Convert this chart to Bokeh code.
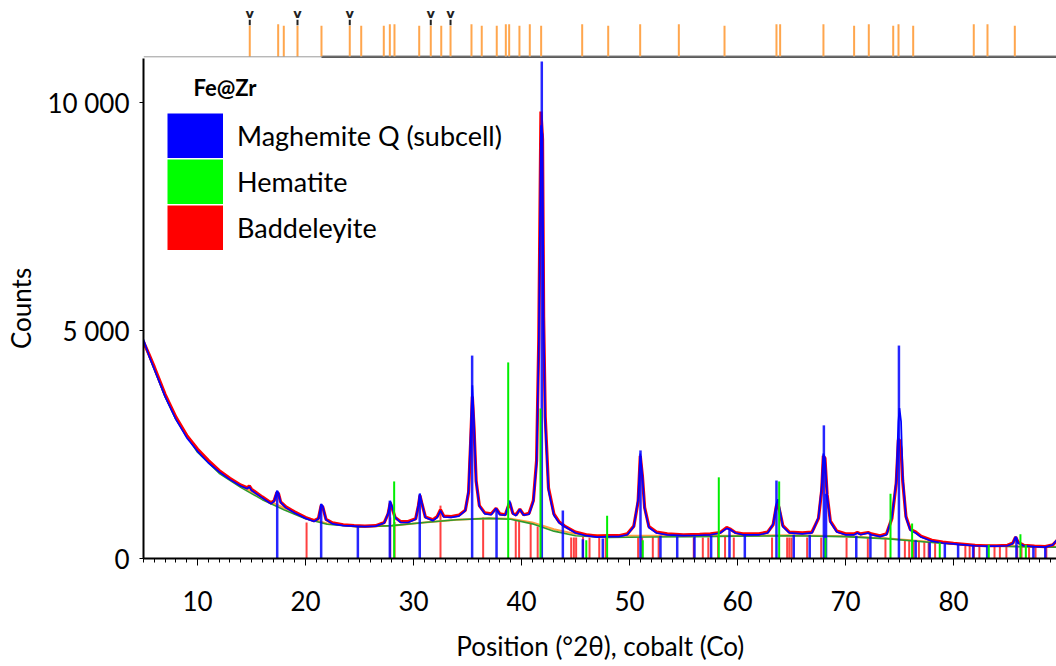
from bokeh.plotting import figure
from bokeh.layouts import column
from bokeh.models import (Range1d, FixedTicker, Legend, LegendItem, Label, Span)
from bokeh.core.properties import value
from bokeh.embed import file_html
from bokeh.resources import INLINE

# ---------------- data ----------------
x_min, x_max = 5.0, 89.54
y_max = 10965

two_theta = [5.0, 5.5, 6.0, 7.0, 8.0, 9.0, 10.0, 11.0, 12.0, 13.0, 14.0, 14.6, 14.8, 15.0, 16.0, 16.8,
             17.1, 17.35, 17.5, 17.7, 18.2, 19.0, 20.0, 20.8, 21.2, 21.45, 21.6, 21.9, 22.5, 23.5, 24.5,
             25.5, 26.5, 27.3, 27.65, 27.85, 28.0, 28.3, 28.8, 29.5, 30.2, 30.45, 30.6, 30.75, 31.1, 31.8,
             32.2, 32.5, 32.8, 33.5, 34.2, 34.8, 35.1, 35.3, 35.45, 35.6, 35.8, 36.1, 36.6, 37.2, 37.65,
             38.0, 38.5, 38.9, 39.2, 39.5, 39.85, 40.2, 40.7, 41.1, 41.4, 41.6, 41.8, 41.95, 42.05, 42.2,
             42.5, 43.0, 43.5, 44.0, 45.0, 46.0, 47.0, 48.0, 49.0, 49.8, 50.4, 50.8, 51.0, 51.2, 51.4,
             51.8, 52.5, 53.5, 55.0, 56.5, 57.5, 58.4, 59.0, 59.3, 59.8, 60.5, 62.0, 62.8, 63.3, 63.6,
             63.75, 63.9, 64.2, 64.8, 66.0, 66.9, 67.5, 67.8, 67.95, 68.1, 68.3, 68.6, 69.2, 70.0, 70.8,
             71.1, 71.4, 72.1, 72.4, 73.2, 73.8, 74.3, 74.7, 74.9, 75.0, 75.15, 75.3, 75.6, 76.0, 76.5,
             77.0, 78.0, 79.0, 80.0, 81.0, 82.0, 83.0, 84.0, 85.0, 85.5, 85.75, 86.0, 86.5, 87.5, 88.5,
             89.2, 89.6]

calc_counts = [4800, 4450, 4150, 3550, 3050, 2650, 2350, 2100, 1900, 1730, 1590, 1530, 1570, 1490, 1330, 1200,
               1260, 1480, 1440, 1230, 1110, 1000, 880, 810, 870, 1190, 1150, 850, 760, 720, 710,
               700, 710, 780, 1000, 1260, 1150, 900, 790, 790, 860, 1180, 1420, 1250, 900, 830,
               900, 1050, 910, 900, 930, 1050, 1500, 2800, 3800, 3000, 1700, 1150, 980, 960, 1100,
               960, 950, 1270, 980, 940, 1080, 950, 970, 1250, 2100, 4700, 9500, 9300, 5200, 3000,
               1500, 950, 780, 700, 560, 500, 470, 480, 480, 520, 700, 1300, 2300, 1800, 1100,
               680, 560, 520, 500, 510, 520, 560, 660, 640, 560, 520, 520, 560, 750, 1200,
               1300, 1100, 700, 560, 540, 560, 900, 1600, 2300, 2200, 1400, 800, 580, 520, 520,
               560, 520, 560, 520, 480, 520, 900, 1700, 3000, 3300, 3000, 1800, 900, 620, 560,
               470, 380, 340, 320, 300, 280, 270, 270, 280, 330, 480, 340, 280, 260, 250,
               300, 420]

obs_counts = [4750, 4480, 4200, 3600, 3100, 2700, 2400, 2150, 1930, 1760, 1610, 1550, 1590, 1520, 1350, 1220,
              1270, 1450, 1420, 1240, 1130, 1020, 900, 830, 880, 1160, 1130, 860, 780, 740, 720,
              710, 720, 790, 980, 1220, 1120, 900, 810, 810, 870, 1150, 1380, 1230, 910, 850,
              920, 1070, 930, 920, 950, 1060, 1450, 2600, 3550, 2900, 1700, 1160, 1000, 980, 1100,
              980, 960, 1230, 990, 960, 1080, 960, 990, 1270, 2150, 4800, 9800, 9200, 5300, 3100,
              1550, 980, 800, 710, 580, 520, 490, 500, 500, 540, 710, 1250, 2250, 1800, 1120,
              700, 580, 540, 520, 530, 540, 570, 680, 650, 570, 540, 540, 580, 740, 1150,
              1200, 1050, 720, 580, 560, 580, 880, 1500, 2250, 2200, 1400, 820, 600, 540, 540,
              570, 540, 570, 540, 500, 540, 880, 1650, 2600, 2600, 2400, 1700, 920, 640, 580,
              490, 400, 360, 330, 310, 290, 280, 280, 290, 340, 470, 350, 290, 270, 260,
              300, 400]

bg_theta = [5, 6, 7, 8, 10, 12, 14, 16, 18, 20, 22, 25, 28, 31, 34, 37, 39, 41, 43, 45, 48, 52, 56,
            60, 65, 70, 74, 78, 82, 86, 89.6]
bg_counts = [4750, 4150, 3550, 3050, 2330, 1870, 1560, 1290, 1070, 870, 750, 690, 720, 790, 850, 880,
             860, 760, 600, 500, 460, 470, 480, 490, 500, 480, 430, 350, 280, 260, 250]
alt_counts = [4750, 4150, 3560, 3070, 2360, 1900, 1600, 1330, 1110, 900, 770, 700, 720, 790, 850, 880,
              870, 790, 640, 540, 500, 500, 500, 500, 510, 490, 440, 360, 290, 270, 260]

# Maghemite Q (subcell) reference lines
mag_pos = [17.38, 21.45, 24.85, 27.81, 30.58, 35.43, 37.69, 41.88, 43.83, 45.68, 47.53, 51.02, 52.87,
           54.42, 56.02, 57.56, 59.26, 60.68, 63.61, 65.21, 66.69, 68.0, 68.2, 71.0, 72.31, 74.95,
           76.5, 77.8, 79.2, 80.43, 81.82, 83.12, 85.83, 87.4, 88.5]
mag_h = [1490, 1200, 700, 1270, 1420, 4450, 1050, 10900, 1050, 420, 440, 2370, 500,
         480, 480, 500, 640, 500, 1710, 520, 520, 2920, 1420, 500, 520, 4670,
         400, 350, 320, 300, 280, 280, 460, 260, 250]

# Hematite reference lines
hem_pos = [28.21, 38.77, 41.76, 46.0, 47.93, 51.23, 58.27, 63.86, 68.15, 74.17, 76.17, 78.73, 83.27,
           86.2, 86.7]
hem_h = [1690, 4300, 3290, 400, 940, 400, 1780, 1690, 450, 1420, 770, 350, 300, 530, 300]

# Baddeleyite reference lines
bad_pos = [20.1, 27.85, 28.25, 32.5, 36.45, 39.47, 39.78, 40.85, 41.5, 44.6, 44.85, 45.06, 45.7, 46.3,
           47.2, 47.8, 50.8, 51.17, 52.16, 52.7, 55.95, 56.79, 57.3, 58.2, 58.85, 59.66, 63.2, 64.6,
           64.8, 65.0, 66.45, 67.75, 70.1, 72.07, 73.7, 75.5, 75.9, 76.3, 76.8, 77.3, 77.7, 78.3,
           81.1, 81.5, 81.9, 82.4, 83.8, 84.3, 84.9, 85.9, 86.3, 87.0, 87.6, 88.6]
bad_h = [790, 900, 800, 1160, 900, 850, 850, 770, 700, 460, 460, 460, 470, 460,
         470, 480, 460, 460, 470, 470, 460, 460, 460, 480, 470, 460, 460, 460,
         460, 460, 460, 460, 460, 460, 460, 400, 400, 400, 380, 370, 360, 340,
         300, 300, 300, 290, 290, 290, 290, 280, 280, 270, 270, 260]

# peak list strip (top)
strip_pos = [14.84, 17.47, 17.99, 19.26, 21.48, 24.10, 25.16, 27.25, 27.81, 28.24, 30.53, 31.60, 32.57,
             33.43, 35.37, 36.32, 37.71, 38.55, 38.86, 39.81, 40.77, 41.82, 45.62, 48.03, 50.99, 54.57,
             58.80, 63.61, 63.95, 67.96, 70.80, 72.16, 74.42, 74.91, 76.27, 81.88, 83.15, 85.68]
strip_h = [0.55, 0.58, 0.55, 0.55, 0.55, 0.55, 0.55, 0.55, 0.58, 0.58, 0.55, 0.55, 0.55,
           0.55, 0.58, 0.55, 0.55, 0.58, 0.58, 0.55, 0.58, 0.55, 0.58, 0.55, 0.58, 0.58,
           0.55, 0.58, 0.58, 0.58, 0.55, 0.58, 0.55, 0.58, 0.55, 0.58, 0.58, 0.55]
marker_pos = [14.84, 19.26, 24.10, 31.60, 33.43]
strip_line_start = 21.48

y_ticks = [0, 5000, 10000]
y_tick_labels = ["0", "5 000", "10 000"]
x_ticks = [10, 20, 30, 40, 50, 60, 70, 80]

phase_names = ["Maghemite Q (subcell)", "Hematite", "Baddeleyite"]
phase_colors = ["#0000ff", "#00ff00", "#ff0000"]

FONT = "Lato"
NAN = float("nan")

xr = Range1d(x_min, x_max)

# ---------------- top strip ----------------
s = figure(width=1056, height=58, x_range=xr, y_range=Range1d(-0.03, 1.0),
           output_backend="svg", toolbar_location=None,
           x_axis_location=None, y_axis_location=None,
           min_border_left=143, min_border_right=0, min_border_top=0, min_border_bottom=0)
s.grid.visible = False
s.outline_line_color = None
s.add_layout(Span(location=0, dimension="width", line_color="#9a9a9a", line_width=1))
s.segment(x0=[strip_line_start], y0=[0], x1=[x_max], y1=[0], line_color="black", line_width=2)
s.segment(x0=strip_pos, y0=[0] * len(strip_pos), x1=strip_pos, y1=strip_h,
          line_color="#ffa64d", line_width=2)
s.segment(x0=marker_pos, y0=[0.56] * len(marker_pos), x1=marker_pos, y1=[0.66] * len(marker_pos),
          line_color="#222222", line_width=2)
s.text(x=marker_pos, y=[0.64] * len(marker_pos), text=["v"] * len(marker_pos),
       text_font=value("DejaVu Sans"), text_font_size="13px", text_font_style="bold",
       text_align="center", text_baseline="bottom", text_color="#222222")

# ---------------- main plot ----------------
p = figure(width=1056, height=608, x_range=xr, y_range=Range1d(0, y_max),
           output_backend="svg", toolbar_location=None,
           min_border_left=143, min_border_right=0, min_border_top=0, min_border_bottom=108)
p.grid.visible = False
p.outline_line_color = None
p.background_fill_color = "white"

# reference sticks (behind)
p.segment(x0=bad_pos, y0=[0] * len(bad_pos), x1=bad_pos, y1=bad_h,
          line_color="#ff0000", line_width=2, line_alpha=0.75)
# background curves
p.line(bg_theta, alt_counts, line_color="#ffa040", line_width=2)
p.line(bg_theta, bg_counts, line_color="#2e9a2e", line_width=1.6)
# observed and calculated
p.line(two_theta, obs_counts, line_color="#ff0000", line_width=3.2)
p.line(two_theta, calc_counts, line_color="#0000ff", line_width=1.7)
p.segment(x0=mag_pos, y0=[0] * len(mag_pos), x1=mag_pos, y1=mag_h,
          line_color="#0000ff", line_width=2.5, line_alpha=0.85)
p.segment(x0=hem_pos, y0=[0] * len(hem_pos), x1=hem_pos, y1=hem_h,
          line_color="#00ee00", line_width=2)

# axes
for ax in (p.xaxis[0], p.yaxis[0]):
    ax.axis_line_color = "black"
    ax.axis_line_width = 2
    ax.major_tick_line_color = "black"
    ax.minor_tick_line_color = "black"
    ax.major_label_text_font = FONT
    ax.major_label_text_font_size = "26px"
    ax.major_label_text_color = "black"
    ax.axis_label_text_font = FONT
    ax.axis_label_text_font_size = "26px"
    ax.axis_label_text_font_style = "normal"
    ax.axis_label_text_color = "black"
    ax.major_tick_in = 0
    ax.minor_tick_in = 0

p.xaxis.ticker = FixedTicker(ticks=x_ticks, minor_ticks=list(range(5, 90)))
p.xaxis.major_tick_out = 7
p.xaxis.minor_tick_out = 4
p.xaxis.major_label_standoff = 25
p.xaxis.axis_label = "Position (°2θ), cobalt (Co)"
p.xaxis.axis_label_standoff = 16

p.yaxis.ticker = FixedTicker(ticks=y_ticks, minor_ticks=[])
p.yaxis.major_label_overrides = {t: l for t, l in zip(y_ticks, y_tick_labels)}
p.yaxis.major_tick_out = 4
p.yaxis.minor_tick_out = 0
p.yaxis.major_label_standoff = 10
p.yaxis.axis_label = "Counts"
p.yaxis.axis_label_standoff = 7

# legend: swatches drawn from wide butt-capped lines with no visible data
items = []
for name, col in zip(phase_names, phase_colors):
    r = p.line(x=[NAN], y=[NAN], line_color=col, line_width=45, line_cap="butt")
    items.append(LegendItem(label=name, renderers=[r]))
legend = Legend(items=items,
                location=(24, 308), glyph_width=56, glyph_height=45, label_height=45,
                spacing=1, padding=0, margin=0, label_standoff=14,
                label_text_font=FONT, label_text_font_size="27px", label_text_color="black",
                border_line_color=None, background_fill_alpha=0)
p.add_layout(legend)
p.add_layout(Label(x=50, y=471, x_units="screen", y_units="screen", text="Fe@Zr",
                   text_font=FONT, text_font_size="22px", text_font_style="bold",
                   text_baseline="middle", text_color="black"))

layout = column(s, p, spacing=0)
open("out.html", "w").write(file_html(layout, INLINE))
